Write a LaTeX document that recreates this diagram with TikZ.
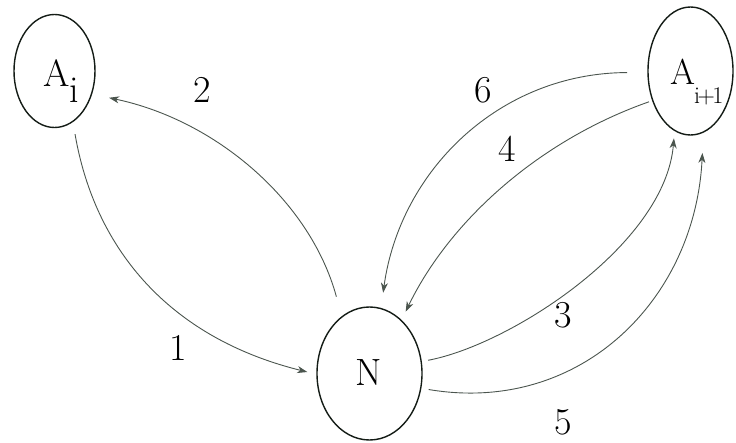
\documentclass[tikz,border=0pt]{standalone}
\usepackage{fontspec}
\usetikzlibrary{shapes.geometric,arrows.meta}
\definecolor{edgecol}{RGB}{75,85,78}
\definecolor{ringcol}{RGB}{20,28,22}
\begin{document}
\begin{tikzpicture}[x=1pt,y=-1pt,
  stnode/.style={ellipse,draw=ringcol,line width=1.4pt,inner sep=0pt,outer sep=0pt},
  conn/.style={draw=edgecol,line width=0.9pt,-{Stealth[length=10pt,width=7pt,inset=3pt]}},
  num/.style={font=\fontsize{38}{38}\selectfont,anchor=base,inner sep=0pt},
  lab/.style={font=\fontsize{38}{38}\selectfont,anchor=base west,inner sep=0pt}
]
\useasboundingbox (0,0) rectangle (736,443);

% states
\node[stnode,minimum width=81pt,minimum height=113pt] (Ai) at (54.5,71) {};
\node[stnode,minimum width=85pt,minimum height=128pt] (Aip) at (690.5,71) {};
\node[stnode,minimum width=105pt,minimum height=133pt] (N) at (369.5,373.5) {};

% state labels
\node[lab] (Ailab) at (43,87) {A\raisebox{-16pt}{i}};
\node[lab,font=\fontsize{36}{36}\selectfont] (Aiplab) at (670,85) {A\kern-1pt\raisebox{-19pt}{\fontsize{24}{24}\selectfont i\kern-2.5pt+\kern-2.5pt1}};
\node[font=\fontsize{38}{38}\selectfont,inner sep=0pt,anchor=base] (Nlab) at (369,385) {N};

% connectors
\draw[conn,shorten <=13pt,shorten >=10pt] (Ai.-70) .. controls (95,250) and (170,338) .. (N.181);
\draw[conn,shorten <=21pt,shorten >=18pt] (N.116) .. controls (310,200) and (215,120) .. (Ai.-32);
\draw[conn,shorten <=21pt,shorten >=16pt] (Aip.182) .. controls (500,73) and (400,170) .. (N.80);
\draw[conn,shorten <=4pt,shorten >=10pt] (Aip.218) .. controls (540,140) and (450,220) .. (N.59);
\draw[conn,shorten <=7pt,shorten >=8pt] (N.13) .. controls (510,345) and (665,245) .. (Aip.-105);
\draw[conn,shorten <=8pt,shorten >=21pt] (N.-16) .. controls (580,415) and (695,300) .. (Aip.-78);

% edge labels
\node[num] (l1) at (178,360) {1};
\node[num] (l2) at (202,103) {2};
\node[num] (l3) at (563,328) {3};
\node[num] (l4) at (507,162) {4};
\node[num] (l5) at (563,434) {5};
\node[num] (l6) at (483,103) {6};
\end{tikzpicture}
\end{document}
